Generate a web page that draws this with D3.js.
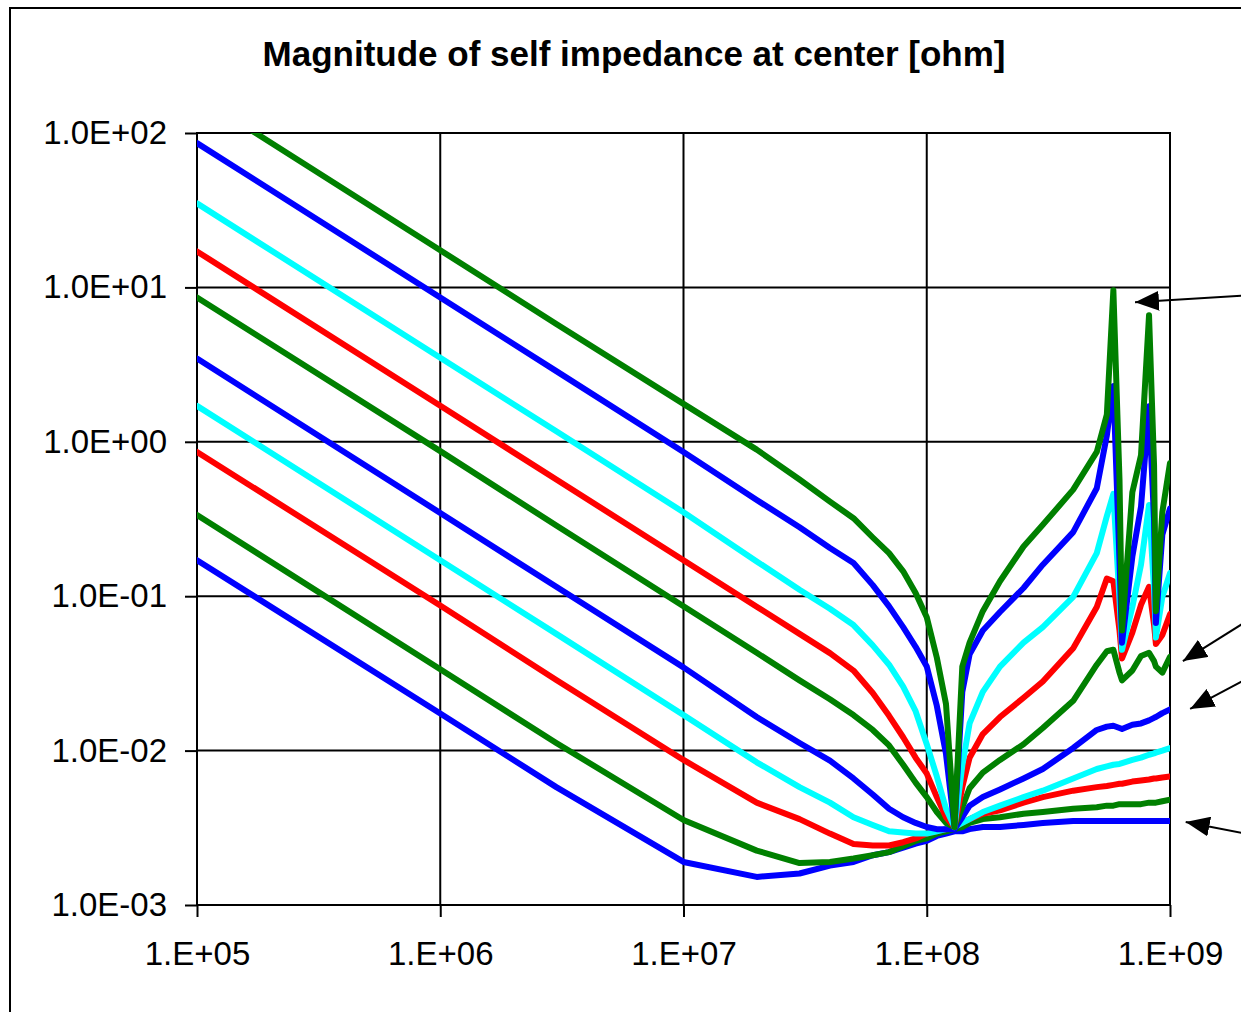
<!DOCTYPE html>
<meta charset="utf-8">
<html>
<head>
<script src="https://cdn.jsdelivr.net/npm/d3@7"></script>
<style>
  body { margin: 0; background: #fff; }
  svg text { font-family: "Liberation Sans", Arial, sans-serif; fill: #000; }
</style>
</head>
<body>
<div id="chart"></div>
<script>
// frequency points [Hz], shared by every curve
const freq = [1e5, 1e6, 3e6, 1e7, 2e7, 3e7, 4e7, 5e7, 6e7, 7e7, 8e7, 9e7, 1e8, 1.1e8, 1.2e8,
  1.3e8, 1.4e8, 1.5e8, 1.7e8, 2e8, 2.5e8, 3e8, 4e8, 5e8, 5.5e8, 5.85e8, 6.2e8, 6.35e8,
  7e8, 7.6e8, 8.2e8, 8.6e8, 8.75e8, 9.3e8, 1e9];

// |Z| [ohm] for each curve, bottom to top at 1e5 Hz
const z1 = [0.171, 0.0174, 0.0058, 0.0019, 0.00152, 0.0016, 0.0018, 0.0019, 0.0021, 0.0022, 0.00235, 0.0025, 0.0026, 0.0028, 0.0029,
  0.003, 0.003, 0.0031, 0.0032, 0.0032, 0.0033, 0.0034, 0.0035, 0.0035, 0.0035, 0.0035, 0.0035, 0.0035,
  0.0035, 0.0035, 0.0035, 0.0035, 0.0035, 0.0035, 0.0035];
const z2 = [0.336, 0.0336, 0.0112, 0.00355, 0.00225, 0.00187, 0.0019, 0.002, 0.0021, 0.0022, 0.0024, 0.0026, 0.0027, 0.0029, 0.003,
  0.0031, 0.0032, 0.0034, 0.0036, 0.0037, 0.0039, 0.004, 0.0042, 0.0043, 0.0044, 0.0044, 0.0045, 0.0045,
  0.0045, 0.0045, 0.0046, 0.0046, 0.0046, 0.0047, 0.0048];
const z3 = [0.86, 0.087, 0.0287, 0.0087, 0.0046, 0.0036, 0.0029, 0.00248, 0.00243, 0.00243, 0.00255, 0.0027, 0.0029, 0.003, 0.0031,
  0.0032, 0.0034, 0.0036, 0.0039, 0.0041, 0.0046, 0.005, 0.0055, 0.0058, 0.0059, 0.006, 0.0061, 0.0061,
  0.0063, 0.0064, 0.0065, 0.0066, 0.0066, 0.0067, 0.0068];
const z4 = [1.71, 0.171, 0.057, 0.017, 0.0084, 0.0058, 0.0046, 0.0037, 0.0033, 0.003, 0.00295, 0.0029, 0.0029, 0.003, 0.0031,
  0.0032, 0.0034, 0.0036, 0.004, 0.0044, 0.005, 0.0055, 0.0066, 0.0076, 0.0079, 0.0081, 0.0082, 0.0083,
  0.0087, 0.009, 0.0094, 0.0096, 0.0097, 0.01, 0.0104];
const z5 = [3.46, 0.346, 0.115, 0.0346, 0.0165, 0.0112, 0.0086, 0.0066, 0.0052, 0.0042, 0.0037, 0.0034, 0.0032, 0.0031, 0.0031,
  0.0031, 0.0037, 0.0044, 0.005, 0.0056, 0.0066, 0.0076, 0.0104, 0.0136, 0.0143, 0.0145, 0.014, 0.0138,
  0.0147, 0.015, 0.0157, 0.0163, 0.0165, 0.0175, 0.0185];
const z6 = [8.6, 0.87, 0.287, 0.086, 0.043, 0.0285, 0.0215, 0.017, 0.0136, 0.0108, 0.0081, 0.0062, 0.005, 0.004, 0.0034,
  0.0032, 0.0043, 0.0057, 0.0072, 0.0087, 0.011, 0.014, 0.021, 0.036, 0.044, 0.045, 0.032, 0.0285,
  0.033, 0.041, 0.043, 0.038, 0.035, 0.032, 0.0405];
const z7 = [17.1, 1.71, 0.57, 0.171, 0.0855, 0.057, 0.0428, 0.033, 0.0236, 0.0168, 0.0122, 0.009, 0.0071, 0.005, 0.0037,
  0.0032, 0.0058, 0.009, 0.0128, 0.0165, 0.022, 0.028, 0.046, 0.085, 0.13, 0.125, 0.06, 0.0395,
  0.058, 0.088, 0.115, 0.065, 0.049, 0.056, 0.0765];
const z8 = [35, 3.5, 1.17, 0.35, 0.168, 0.11, 0.083, 0.065, 0.048, 0.036, 0.026, 0.018, 0.011, 0.0068, 0.0042,
  0.0032, 0.008, 0.015, 0.024, 0.035, 0.05, 0.063, 0.099, 0.19, 0.33, 0.46, 0.095, 0.045,
  0.085, 0.16, 0.39, 0.11, 0.054, 0.099, 0.141];
const z9 = [86, 8.6, 2.87, 0.86, 0.42, 0.28, 0.205, 0.164, 0.118, 0.086, 0.063, 0.047, 0.035, 0.0195, 0.0095,
  0.0032, 0.024, 0.042, 0.06, 0.079, 0.113, 0.16, 0.26, 0.5, 1.1, 2.3, 0.17, 0.05,
  0.18, 0.38, 1.7, 0.31, 0.067, 0.25, 0.37];
const z10 = [174, 17.4, 5.8, 1.76, 0.89, 0.57, 0.41, 0.32, 0.24, 0.19, 0.145, 0.105, 0.073, 0.04, 0.02,
  0.0032, 0.035, 0.05, 0.08, 0.125, 0.21, 0.29, 0.49, 0.86, 1.5, 9.6, 0.57, 0.06,
  0.47, 0.82, 6.6, 0.7, 0.08, 0.35, 0.73];

const curves = [z1, z2, z3, z4, z5, z6, z7, z8, z9, z10];
const curveColors = ["#0000ff", "#008000", "#ff0000", "#00ffff", "#0000ff",
                     "#008000", "#ff0000", "#00ffff", "#0000ff", "#008000"];

const xTicks = [1e5, 1e6, 1e7, 1e8, 1e9];
const xTickLabels = ["1.E+05", "1.E+06", "1.E+07", "1.E+08", "1.E+09"];
const yTicks = [1e-3, 1e-2, 1e-1, 1, 10, 100];
const yTickLabels = ["1.0E-03", "1.0E-02", "1.0E-01", "1.0E+00", "1.0E+01", "1.0E+02"];

// annotation arrows: tail and tip in data units (f, |Z|)
const arrowTailF = [2.1e9, 2.1e9, 2.1e9, 2.1e9];
const arrowTailZ = [8.9, 0.07, 0.0295, 0.00288];
const arrowTipF  = [7.18e8, 1.13e9, 1.21e9, 1.16e9];
const arrowTipZ  = [8.0, 0.038, 0.0186, 0.00345];

const margin = {top: 133, left: 197},
    width = 973,
    height = 772;

const svg = d3.select("#chart")
  .append("svg")
    .attr("width", 1241)
    .attr("height", 1012);

// outer chart frame (runs off the right and bottom of the picture)
svg.append("rect")
  .attr("x", 10).attr("y", 8)
  .attr("width", 1300).attr("height", 1100)
  .attr("fill", "none")
  .attr("stroke", "#000")
  .attr("stroke-width", 2);

svg.append("text")
  .attr("x", 634).attr("y", 66)
  .attr("text-anchor", "middle")
  .style("font-size", "35px")
  .style("font-weight", "bold")
  .text("Magnitude of self impedance at center [ohm]");

const g = svg.append("g")
  .attr("transform", `translate(${margin.left},${margin.top})`);

const x = d3.scaleLog().domain([1e5, 1e9]).range([0, width]);
const y = d3.scaleLog().domain([1e-3, 1e2]).range([height, 0]);

// grid
g.selectAll(".vgrid").data(xTicks).join("line")
  .attr("x1", d => x(d)).attr("x2", d => x(d))
  .attr("y1", 0).attr("y2", height)
  .attr("stroke", "#000").attr("stroke-width", 2);
g.selectAll(".hgrid").data(yTicks).join("line")
  .attr("x1", 0).attr("x2", width)
  .attr("y1", d => y(d)).attr("y2", d => y(d))
  .attr("stroke", "#000").attr("stroke-width", 2);

// axes
const yAxis = g.append("g")
  .call(d3.axisLeft(y).tickValues(yTicks)
    .tickFormat((d, i) => yTickLabels[i])
    .tickSize(12).tickPadding(18));
const xAxis = g.append("g")
  .attr("transform", `translate(0,${height})`)
  .call(d3.axisBottom(x).tickValues(xTicks)
    .tickFormat((d, i) => xTickLabels[i])
    .tickSize(12).tickPadding(25));

[xAxis, yAxis].forEach(a => {
  a.select(".domain").remove();
  a.selectAll(".tick line").attr("stroke", "#000").attr("stroke-width", 2);
  a.selectAll(".tick text")
    .style("font-size", "33px")
    .attr("font-family", null);
});

g.append("rect")
  .attr("width", width).attr("height", height)
  .attr("fill", "none")
  .attr("stroke", "#000").attr("stroke-width", 2);

// curves
g.append("clipPath").attr("id", "plotclip")
  .append("rect").attr("width", width).attr("height", height);

const line = d3.line()
  .x((d, i) => x(freq[i]))
  .y(d => y(d));

g.append("g")
  .attr("clip-path", "url(#plotclip)")
  .selectAll("path")
  .data(curves)
  .join("path")
    .attr("d", d => line(d))
    .attr("fill", "none")
    .attr("stroke", (d, i) => curveColors[i])
    .attr("stroke-width", 6)
    .attr("stroke-linejoin", "round")
    .attr("stroke-linecap", "round");

// arrows
svg.append("defs").append("marker")
  .attr("id", "head")
  .attr("markerUnits", "userSpaceOnUse")
  .attr("viewBox", "0 0 24 20")
  .attr("markerWidth", 24).attr("markerHeight", 20)
  .attr("refX", 24).attr("refY", 10)
  .attr("orient", "auto")
  .append("path").attr("d", "M0,0L24,10L0,20Z").attr("fill", "#000");

g.selectAll(".arrow").data(arrowTipF).join("line")
  .attr("x1", (d, i) => x(arrowTailF[i]))
  .attr("y1", (d, i) => y(arrowTailZ[i]))
  .attr("x2", (d, i) => x(arrowTipF[i]))
  .attr("y2", (d, i) => y(arrowTipZ[i]))
  .attr("stroke", "#000").attr("stroke-width", 2)
  .attr("marker-end", "url(#head)");
</script>
</body>
</html>
